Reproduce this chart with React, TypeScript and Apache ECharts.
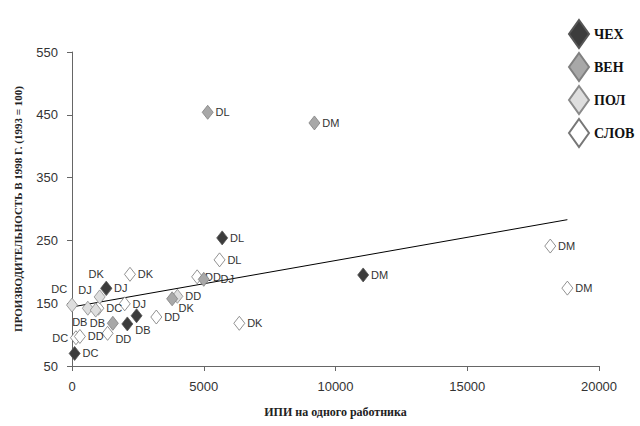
import React, { useEffect, useRef } from "react";
import * as echarts from "echarts";

// ---- Data ----
const countryNames = ["ЧЕХ", "ВЕН", "ПОЛ", "СЛОВ"];

const chekhX = [100, 1300, 2100, 2450, 5700, 11050];
const chekhY = [70, 174, 117, 130, 254, 195];
const chekhLabels = ["DC", "DJ", "DB", "", "DL", "DM"];

const venX = [1550, 3800, 5000, 5150, 9200];
const venY = [118, 157, 188, 454, 437];
const venLabels = ["DB", "DK", "DJ", "DL", "DM"];

const polX = [0, 1050, 600, 900, 4000];
const polY = [147, 160, 142, 139, 161];
const polLabels = ["DC", "DJ", "DB", "", "DD"];

const slovX = [1300, 1000, 2000, 2200, 3200, 150, 300, 1350, 4750, 5600, 6350, 18150, 18800];
const slovY = [173, 142, 149, 196, 128, 95, 97, 102, 192, 219, 118, 241, 174];
const slovLabels = ["DK", "DC", "DJ", "DK", "DD", "DC", "DD", "DD", "DD", "DL", "DK", "DM", "DM"];

const trendX = [0, 18800];
const trendY = [144, 283];

const xTicks = [0, 5000, 10000, 15000, 20000];
const yTicks = [50, 150, 250, 350, 450, 550];

// ---- Styles (label placement per point) ----
const chekhPlace = ["r", "r", "br", "r", "r", "r"];
const venPlace = ["l", "b", "rj", "r", "r"];
const polPlace = ["tl", "lu", "bb", "r", "r"];
const slovPlace = ["t", "r", "r", "r", "r", "l", "r", "br", "r", "r", "r", "r", "r"];

const placeMap: Record<string, any> = {
  r: { position: "right" },
  rj: { position: "right", offset: [9, 0] },
  l: { position: "left" },
  br: { position: "right", offset: [0, 6] },
  tl: { position: "left", offset: [3, -16] },
  lu: { position: "left", offset: [0, -7] },
  bb: { position: "bottom", offset: [-8, -1] },
  t: { position: "top", offset: [-10, 0] },
  b: { position: "bottom", offset: [14, -6] },
};

const fills = ["#3c3c3c", "#a8a8a8", "#dedede", "#ffffff"];
const borders = ["#555555", "#808080", "#8a8a8a", "#777777"];

function buildData(xs: number[], ys: number[], labels: string[], places: string[]) {
  return xs.map((x, i) => ({
    value: [x, ys[i]],
    name: labels[i],
    label: { show: labels[i] !== "", ...placeMap[places[i]] },
  }));
}

export default function App() {
  const ref = useRef<HTMLDivElement>(null);
  useEffect(() => {
    if (!ref.current) return;
    const chart = echarts.init(ref.current, null, { renderer: "svg" });
    const sets = [
      buildData(chekhX, chekhY, chekhLabels, chekhPlace),
      buildData(venX, venY, venLabels, venPlace),
      buildData(polX, polY, polLabels, polPlace),
      buildData(slovX, slovY, slovLabels, slovPlace),
    ];
    const scatterSeries = countryNames.map((nm, k) => ({
      name: nm,
      type: "scatter",
      symbol: "diamond",
      symbolSize: [11, 14],
      z: 10 - k,
      itemStyle: { color: fills[k], borderColor: borders[k], borderWidth: 0.8, opacity: 1 },
      label: {
        formatter: (p: any) => p.name,
        fontFamily: "Liberation Sans",
        fontSize: 11,
        color: "#333",
        distance: 2,
      },
      data: sets[k],
    }));
    const ordered = [...scatterSeries].reverse();
    chart.setOption({
      animation: false,
      backgroundColor: "#ffffff",
      grid: { left: 72, right: 41, top: 52, bottom: 60 },
      legend: {
        data: countryNames,
        orient: "vertical",
        left: 563,
        top: 14,
        icon: "diamond",
        itemWidth: 20,
        itemHeight: 28,
        itemGap: 3,
        textStyle: { fontFamily: "Liberation Serif", fontWeight: "bold", fontSize: 14, color: "#111" },
      },
      xAxis: {
        type: "value",
        min: xTicks[0],
        max: xTicks[xTicks.length - 1],
        interval: 5000,
        name: "ИПИ на одного работника",
        nameLocation: "middle",
        nameGap: 40,
        nameTextStyle: { fontFamily: "Liberation Serif", fontWeight: "bold", fontSize: 12, color: "#222" },
        axisLine: { lineStyle: { color: "#666", width: 1 } },
        axisTick: { show: true, length: 5, lineStyle: { color: "#666" } },
        axisLabel: {
          fontFamily: "Liberation Sans",
          fontSize: 13,
          color: "#333",
          margin: 14,
          formatter: (v: number) => String(v),
        },
        splitLine: { show: false },
      },
      yAxis: {
        type: "value",
        min: yTicks[0],
        max: yTicks[yTicks.length - 1],
        name: "ПРОИЗВОДИТЕЛЬНОСТЬ В 1998 Г. (1993 = 100)",
        nameLocation: "middle",
        nameRotate: 90,
        nameGap: 49,
        nameTextStyle: { fontFamily: "Liberation Serif", fontWeight: "bold", fontSize: 11, color: "#222" },
        axisLine: { show: true, lineStyle: { color: "#666", width: 1 } },
        axisTick: { show: true, length: 5, lineStyle: { color: "#666" }, customValues: yTicks },
        axisLabel: {
          fontFamily: "Liberation Sans",
          fontSize: 13,
          color: "#333",
          margin: 14,
          customValues: yTicks,
          formatter: (v: number) => String(v),
        },
        splitLine: { show: false },
      },
      series: [
        {
          name: "trend",
          type: "line",
          data: trendX.map((x, i) => [x, trendY[i]]),
          symbol: "none",
          silent: true,
          z: 1,
          lineStyle: { color: "#000", width: 1 },
        },
        ...ordered,
      ],
    });
    return () => chart.dispose();
  }, []);
  return <div ref={ref} style={{ width: 640, height: 426, position: "absolute", left: 0, top: 0 }} />;
}
